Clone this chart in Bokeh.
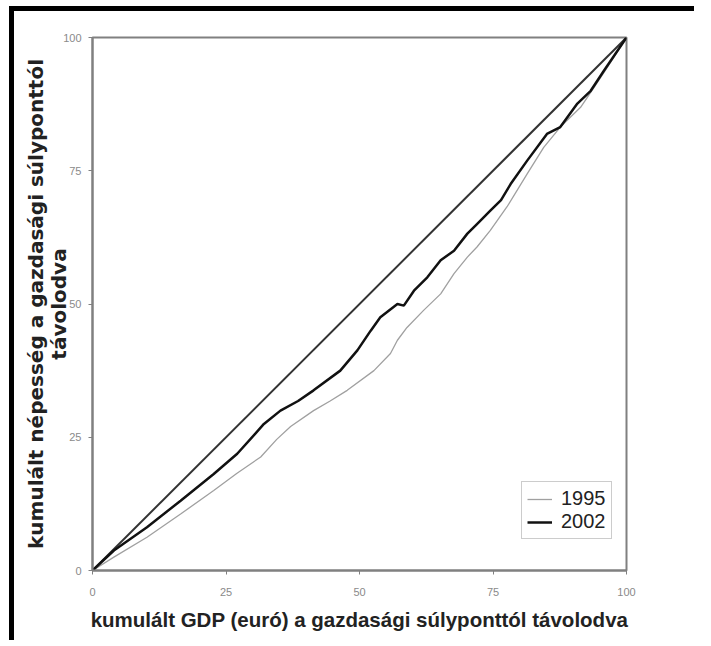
from bokeh.plotting import figure
from bokeh.models import Legend, LegendItem, Range1d, FixedTicker
from bokeh.embed import file_html
from bokeh.resources import INLINE

# ---- data ----
ticks = [0, 25, 50, 75, 100]

diag_x = [0, 100]
diag_y = [0, 100]

x_1995 = [0, 4.0, 10.2, 16.5, 22.7, 27.0, 31.5, 34.5, 37.1, 41.4, 44.5, 47.7,
          52.7, 55.8, 57.1, 58.9, 62.0, 65.2, 67.7, 70.2, 72.0, 74.5, 77.6,
          81.4, 84.5, 87.6, 91.4, 93.9, 96.4, 100]
y_1995 = [0, 2.5, 6.25, 10.6, 15.0, 18.2, 21.3, 24.6, 27.0, 30.0, 31.8, 33.8,
          37.5, 40.7, 43.2, 45.6, 48.8, 51.9, 55.7, 58.8, 60.7, 63.8, 68.2,
          74.4, 79.4, 83.2, 86.9, 90.6, 94.4, 100]

x_2002 = [0, 4.0, 10.2, 16.5, 22.7, 27.1, 32.1, 35.2, 38.5, 41.4, 46.4, 49.6,
          52.1, 53.9, 57.1, 58.3, 60.2, 62.7, 65.2, 67.7, 70.2, 72.0, 74.5,
          76.5, 78.3, 81.4, 85.1, 87.6, 90.8, 93.3, 95.8, 100]
y_2002 = [0, 3.75, 8.1, 13.1, 18.1, 21.9, 27.5, 30.0, 31.8, 33.8, 37.5, 41.3,
          45.0, 47.5, 50.0, 49.7, 52.5, 55.0, 58.2, 60.0, 63.2, 65.0, 67.5,
          69.5, 72.5, 76.9, 81.9, 83.2, 87.6, 90.0, 93.8, 100]

series_names = ["1995", "2002"]

x_title = "kumulált GDP (euró) a gazdasági súlyponttól távolodva"
y_title = "kumulált népesség a gazdasági súlyponttól\ntávolodva"

FONT = "Liberation Sans"

p = figure(width=685, height=634,
           x_range=Range1d(0, 100), y_range=Range1d(0, 100),
           output_backend="svg", toolbar_location=None,
           min_border_left=78, min_border_right=73,
           min_border_top=26, min_border_bottom=75)

p.styles = {"border-top": "5px solid black", "border-left": "5px solid black",
            "margin-left": "9px", "margin-top": "6px"}

p.grid.visible = False
p.background_fill_color = "white"
p.border_fill_color = "white"
p.outline_line_color = "#808080"
p.outline_line_width = 2

for ax in (p.xaxis[0], p.yaxis[0]):
    ax.ticker = FixedTicker(ticks=ticks)
    ax.axis_line_color = "#808080"
    ax.axis_line_width = 2
    ax.major_tick_line_color = "#808080"
    ax.major_tick_line_width = 1
    ax.major_tick_out = 4
    ax.major_tick_in = 0
    ax.minor_tick_line_color = None
    ax.major_label_text_font = FONT
    ax.major_label_text_font_size = "11px"
    ax.major_label_text_color = "#8a8a8a"
    ax.axis_label_text_font_style = "bold"
    ax.axis_label_text_color = "#222222"

p.xaxis.axis_label = x_title
p.xaxis.axis_label_text_font = FONT
p.xaxis.axis_label_text_font_size = "20.5px"
p.xaxis.major_label_standoff = 13
p.xaxis.axis_label_standoff = 9

p.yaxis.axis_label = y_title
p.yaxis.axis_label_text_font = "DejaVu Sans"
p.yaxis.axis_label_text_font_size = "20px"
p.yaxis.axis_label_text_line_height = 0.95
p.yaxis.major_label_standoff = 7
p.yaxis.axis_label_standoff = -11

p.line(diag_x, diag_y, line_color="#333333", line_width=2)
r95 = p.line(x_1995, y_1995, line_color="#a0a0a0", line_width=1.3)
r02 = p.line(x_2002, y_2002, line_color="#111111", line_width=2.5)

legend = Legend(items=[LegendItem(label=series_names[0], renderers=[r95]),
                       LegendItem(label=series_names[1], renderers=[r02])],
                location=(429, 31))
legend.margin = 0
legend.padding = 5
legend.spacing = 0
legend.glyph_width = 25
legend.glyph_height = 20
legend.label_standoff = 9
legend.label_text_font = FONT
legend.label_text_font_size = "20px"
legend.label_text_color = "#222222"
legend.border_line_color = "#999999"
legend.border_line_width = 1.5
legend.background_fill_color = "white"
p.add_layout(legend)

open("out.html", "w").write(file_html(p, INLINE))
